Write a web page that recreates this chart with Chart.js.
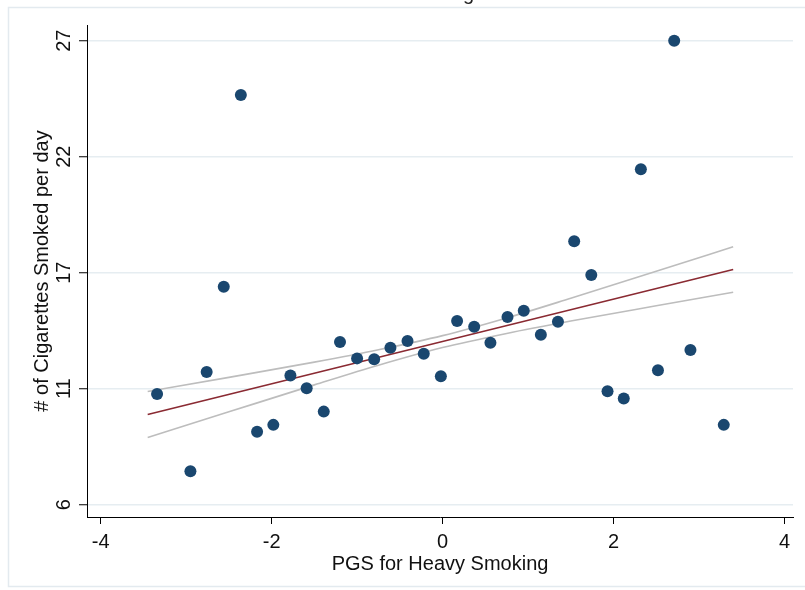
<!DOCTYPE html>
<html>
<head>
<meta charset="utf-8">
<script src="https://cdn.jsdelivr.net/npm/chart.js@4.4.1/dist/chart.umd.min.js"></script>
<style>
    html, body { margin: 0; padding: 0; background: #ffffff; }
    #wrap { width: 805px; height: 590px; }
</style>
</head>
<body>
<div id="wrap"><canvas id="myChart" width="805" height="590"></canvas></div>
<script>
// binned scatter values
const binX = [-3.34, -2.95, -2.76, -2.56, -2.36, -2.17, -1.98, -1.78, -1.59, -1.39, -1.20,
    -1.00, -0.80, -0.61, -0.41, -0.22, -0.02, 0.17, 0.37, 0.56, 0.76, 0.95, 1.15, 1.35,
    1.54, 1.74, 1.93, 2.12, 2.32, 2.52, 2.71, 2.90, 3.29];
const binY = [11.01, 7.51, 12.0, 15.86, 24.54, 9.30, 9.61, 11.84, 11.27, 10.21, 13.36,
    12.62, 12.58, 13.10, 13.41, 12.83, 11.81, 14.31, 14.05, 13.33, 14.49, 14.78, 13.69, 14.28,
    17.92, 16.39, 11.13, 10.80, 21.18, 12.08, 27.0, 13.0, 9.61];

// linear fit and its confidence band
const fitX = [-3.45, 3.40];
const fitY = [10.08, 16.64];
const ciX = [-3.45, -2.5, -1.5, -0.75, 0, 0.75, 1.5, 2.5, 3.40];
const ciUpper = [11.12, 11.76, 12.45, 13.01, 13.65, 14.45, 15.34, 16.56, 17.67];
const ciLower = [9.04, 10.20, 11.42, 12.31, 13.11, 13.75, 14.31, 15.00, 15.61];

// axis ticks
const xTickValues = [-4, -2, 0, 2, 4];
const yTickValues = [6, 11.25, 16.5, 21.75, 27];
const yTickLabels = ["6", "11", "17", "22", "27"];

const titleText = "Smoking";
const xTitle = "PGS for Heavy Smoking";
const yTitle = "# of Cigarettes Smoked per day";

function toPoints(xs, ys) {
    return xs.map(function (x, i) { return { x: x, y: ys[i] }; });
}

// light outer frame and the clipped title at the top edge
const framePlugin = {
    id: 'framePlugin',
    beforeDraw: function (chart) {
        const ctx = chart.ctx;
        ctx.save();
        ctx.fillStyle = '#ffffff';
        ctx.fillRect(0, 0, chart.width, chart.height);
        ctx.strokeStyle = '#e3eaef';
        ctx.lineWidth = 1.5;
        ctx.strokeRect(8.5, 7.5, chart.width + 10, chart.height - 11);
        ctx.fillStyle = '#222222';
        ctx.font = '20px "Liberation Sans", Arial, sans-serif';
        ctx.textAlign = 'right';
        ctx.textBaseline = 'alphabetic';
        ctx.fillText(titleText, 474, -0.5);
        ctx.restore();
    }
};

const fontMain = { family: '"Liberation Sans", Arial, sans-serif', size: 20 };

var data = {
    datasets: [
        {
            label: 'Bins',
            data: toPoints(binX, binY),
            backgroundColor: '#1a476f',
            borderWidth: 0,
            pointRadius: 6,
            order: 0
        },
        {
            label: 'Fit',
            type: 'line',
            data: toPoints(fitX, fitY),
            borderColor: '#8a2a32',
            borderWidth: 1.6,
            pointRadius: 0,
            fill: false,
            order: 1
        },
        {
            label: 'Upper',
            type: 'line',
            data: toPoints(ciX, ciUpper),
            borderColor: '#bdbdbd',
            borderWidth: 1.6,
            pointRadius: 0,
            cubicInterpolationMode: 'monotone',
            fill: false,
            order: 2
        },
        {
            label: 'Lower',
            type: 'line',
            data: toPoints(ciX, ciLower),
            borderColor: '#bdbdbd',
            borderWidth: 1.6,
            pointRadius: 0,
            cubicInterpolationMode: 'monotone',
            fill: false,
            order: 2
        }
    ]
};

var options = {
    responsive: false,
    animation: false,
    layout: { padding: { left: 0, top: 25, right: 12, bottom: 0 } },
    plugins: {
        legend: { display: false },
        tooltip: { enabled: false }
    },
    scales: {
        x: {
            type: 'linear',
            min: -4.16,
            max: 4.10,
            afterBuildTicks: function (scale) {
                scale.ticks = xTickValues.map(function (v) { return { value: v }; });
            },
            afterFit: function (scale) { scale.height = 73; },
            grid: {
                drawOnChartArea: false,
                color: '#000000',
                tickColor: '#000000',
                tickLength: 7,
                lineWidth: 1
            },
            border: { display: true, color: '#000000', width: 1 },
            ticks: {
                font: fontMain,
                color: '#111111',
                padding: 6,
                maxRotation: 0,
                callback: function (v) { return String(v); }
            },
            title: {
                display: true,
                text: xTitle,
                font: fontMain,
                color: '#111111',
                padding: { top: 0, bottom: 14 }
            }
        },
        y: {
            type: 'linear',
            min: 5.44,
            max: 27.71,
            afterBuildTicks: function (scale) {
                scale.ticks = yTickValues.map(function (v) { return { value: v }; });
            },
            afterFit: function (scale) { scale.width = 87; },
            grid: {
                color: '#e6edf1',
                lineWidth: 1.5,
                tickColor: '#000000',
                tickWidth: 1,
                tickLength: 8
            },
            border: { display: true, color: '#000000', width: 1 },
            ticks: {
                font: fontMain,
                color: '#111111',
                padding: 3,
                minRotation: 90,
                maxRotation: 90,
                crossAlign: 'center',
                callback: function (v) {
                    let i = yTickValues.indexOf(v);
                    return i >= 0 ? yTickLabels[i] : '';
                }
            },
            title: {
                display: true,
                text: yTitle,
                font: fontMain,
                color: '#111111',
                padding: { top: 30, bottom: 0 }
            }
        }
    }
};

var ctx = document.getElementById('myChart').getContext('2d');
var myChart = new Chart(ctx, {
    type: 'scatter',
    data: data,
    options: options,
    plugins: [framePlugin]
});
</script>
</body>
</html>
